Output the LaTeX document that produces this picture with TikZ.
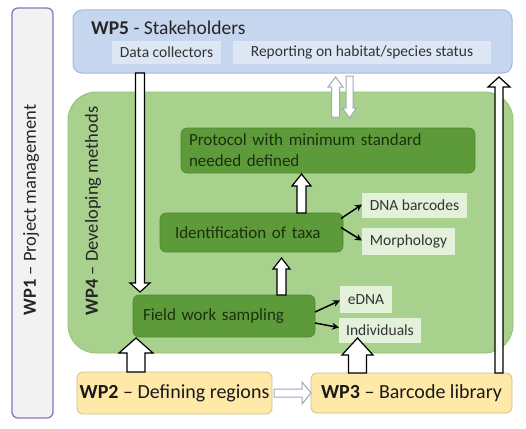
\documentclass[tikz,border=0pt]{standalone}
\usepackage{fontspec}
\setmainfont{Carlito}
\usetikzlibrary{calc,arrows.meta}
\definecolor{wpurple}{HTML}{9271C4}
\definecolor{wgrey}{HTML}{F2F2F2}
\definecolor{wblue}{HTML}{C5D6EE}
\definecolor{wblueb}{HTML}{A3B8DA}
\definecolor{wbluel}{HTML}{DCE6F4}
\definecolor{wgreen}{HTML}{A9D18E}
\definecolor{wgreenb}{HTML}{93BD78}
\definecolor{dkgreen}{HTML}{5D9A3A}
\definecolor{dkgreenb}{HTML}{4F8A32}
\definecolor{ltgreen}{HTML}{E3F0DA}
\definecolor{wyellow}{HTML}{FFE9A8}
\definecolor{wyellowb}{HTML}{CDBF90}
\definecolor{dktext}{HTML}{1C300F}
\definecolor{arrgrey}{HTML}{A0A8B4}
% vertical block arrow: #1 style, #2 x (px), #3 from, #4 to, #5 shaft half, #6 head half, #7 head length
\newcommand\varr[7]{%
  \path[#1] let \p1=(#3), \p2=(#4), \n1={(\y2-\y1)/abs(\y2-\y1)}, \n2={\y2-(\n1)*#7} in
    ({#2pt-#5pt},\y1) -- ({#2pt-#5pt},{\n2*1pt}) -- ({#2pt-#6pt},{\n2*1pt})
    -- ({#2pt},\y2) -- ({#2pt+#6pt},{\n2*1pt}) -- ({#2pt+#5pt},{\n2*1pt})
    -- ({#2pt+#5pt},\y1) -- cycle;}
\begin{document}
\begin{tikzpicture}[x=1pt,y=-1pt,
  box/.style={anchor=north west, inner sep=0pt, outer sep=0pt},
  wp1box/.style={box, draw=wpurple, line width=1.3pt, fill=wgrey, rounded corners=6pt},
  wp5box/.style={box, draw=wblueb, line width=1pt, fill=wblue, rounded corners=9pt},
  subbox/.style={box, fill=wbluel, font=\fontsize{15.5}{18}\selectfont, text=black!80},
  wp4box/.style={box, draw=wgreenb, line width=0.8pt, fill=wgreen, rounded corners=28pt},
  dkbox/.style={box, fill=dkgreen, draw=dkgreenb, line width=0.6pt, rounded corners=6pt, text=dktext, font=\fontsize{17}{21}\selectfont, align=left},
  ltbox/.style={box, fill=ltgreen, text=black!80, font=\fontsize{15.5}{18}\selectfont},
  ybox/.style={box, draw=wyellowb, line width=0.8pt, fill=wyellow, rounded corners=6pt, font=\fontsize{20}{24}\selectfont, text=black!90},
  blk/.style={draw=black, fill=white, line width=1.2pt, line join=miter},
  gblk/.style={draw=arrgrey, fill=white, line width=1pt, line join=miter},
  thin/.style={draw=black, line width=1.5pt, -{Stealth[length=7pt,width=7pt]}},
  ttl/.style={inner sep=0pt, font=\fontsize{18.5}{22}\selectfont, text=black!85}
]
\useasboundingbox (0,0) rectangle (526,428);
% WP1
\node[wp1box, minimum width=41, minimum height=410] (wp1) at (12,8) {};
\node[ttl, rotate=90] (wp1t) at (31,210) {\textbf{WP1} – Project management};
% WP5
\node[wp5box, minimum width=439, minimum height=63] (wp5) at (73,10) {};
\node[anchor=west, inner sep=0pt, font=\fontsize{19.5}{23}\selectfont, text=black!85] (wp5t) at (91,27.5) {\textbf{WP5} - Stakeholders};
\node[subbox, minimum width=109, minimum height=23] (dc) at (112,41) {Data collectors};
\node[subbox, minimum width=258, minimum height=23] (rep) at (233,41) {Reporting on habitat/species status};
% WP4
\node[wp4box, minimum width=445, minimum height=261] (wp4) at (68,92) {};
\node[ttl, rotate=90] (wp4t) at (93,211) {\textbf{WP4} – Developing methods};
% inner boxes
\node[dkbox, minimum width=294, minimum height=45, text width=278, inner xsep=8pt] (proto) at (181,128) {Protocol with minimum standard\\needed defined};
\node[dkbox, minimum width=183, minimum height=39, text width=153, inner xsep=15pt] (ident) at (160,213) {Identification of taxa};
\node[ltbox, minimum width=105, minimum height=25] (dna) at (362,193) {DNA barcodes};
\node[ltbox, minimum width=93, minimum height=27] (morph) at (362,228) {Morphology};
\node[dkbox, minimum width=182, minimum height=42, text width=162, inner xsep=10pt] (field) at (133,295) {Field work sampling};
\node[ltbox, minimum width=52, minimum height=27] (edna) at (340,286) {eDNA};
\node[ltbox, minimum width=82, minimum height=25] (indiv) at (339,318) {Individuals};
% WP2, WP3
\node[ybox, minimum width=195, minimum height=42] (wp2) at (77,372) {\textbf{WP2} – Defining regions};
\node[ybox, minimum width=201, minimum height=40] (wp3) at (311,373) {\textbf{WP3} – Barcode library};
% thin arrows
\draw[thin] ([shift={(-2,-14)}]ident.east) -- ([yshift=1pt]dna.west);
\draw[thin] ([shift={(-2,-5)}]ident.east) -- ([yshift=1pt]morph.west);
\draw[thin] ([shift={(0,-4)}]field.east) -- ([shift={(0,1)}]edna.west);
\draw[thin] ([shift={(0,7)}]field.east) -- ([shift={(0,-3)}]indiv.west);
% block arrows
\varr{blk}{140}{wp5.south}{[yshift=3pt]field.north}{4.5}{10}{9}
\varr{gblk}{335.5}{[yshift=-25pt]wp4.north}{[yshift=-4pt]wp5.south}{4}{7.5}{10}
\varr{gblk}{349.5}{[yshift=-3pt]wp5.south}{[yshift=-26pt]wp4.north}{3.5}{7}{10}
\varr{blk}{499}{wp3.north}{[yshift=-4pt]wp5.south}{4}{11}{10}
\varr{blk}{301.5}{ident.north}{[yshift=-1pt]proto.south}{4.5}{9.5}{12}
\varr{blk}{281.5}{field.north}{[yshift=-6pt]ident.south}{4.5}{8.5}{11}
\varr{blk}{136}{wp2.north}{[yshift=-1pt]field.south}{9}{17}{15}
\varr{blk}{357.5}{wp3.north}{[yshift=5pt]indiv.south}{9}{15.5}{17}
\path[gblk] let \p1=(wp2.east), \p2=(wp3.west) in
  ({\x1+2pt},{\y1+4pt}) -- ({\x2-9pt},{\y1+4pt}) -- ({\x2-9pt},{\y1+11pt}) -- (\x2,\y1)
  -- ({\x2-9pt},{\y1-11pt}) -- ({\x2-9pt},{\y1-4pt}) -- ({\x1+2pt},{\y1-4pt}) -- cycle;
\end{tikzpicture}
\end{document}
